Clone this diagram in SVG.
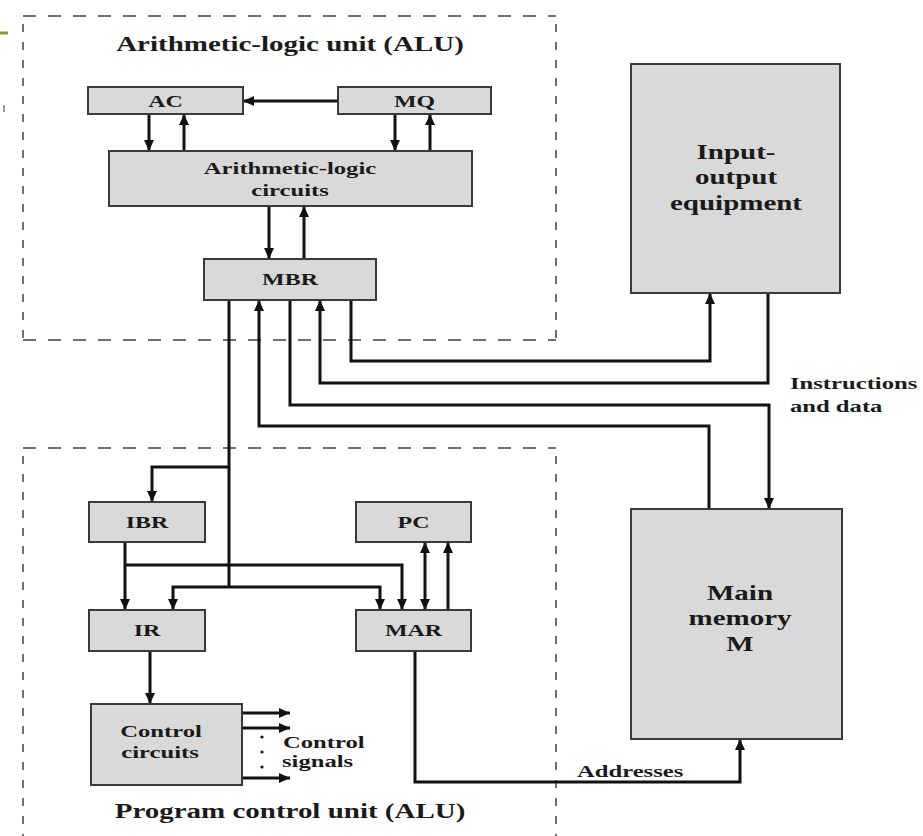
<svg xmlns="http://www.w3.org/2000/svg" width="923" height="836" viewBox="0 0 923 836">
<style>
.box{fill:#d9d9d9;stroke:#3a3a3a;stroke-width:2}
.big{fill:#d9d9d9;stroke:#3a3a3a;stroke-width:2}
.dh{stroke:#707070;stroke-width:2;stroke-dasharray:13 12;fill:none}
.dv{stroke:#707070;stroke-width:2;stroke-dasharray:8 10;fill:none}
.c{fill:none;stroke:#111;stroke-width:3}
.a{marker-end:url(#ah)}
text{font-family:"Liberation Serif","Times New Roman",serif;font-weight:bold;fill:#1a1a1a}
.t20{font-size:20px}
.t17{font-size:17px}
.t16{font-size:16.5px}
.m{text-anchor:middle}
</style>
<defs>
<marker id="ah" markerUnits="userSpaceOnUse" markerWidth="11" markerHeight="10" refX="11" refY="5" orient="auto">
<path d="M0,0 L11,5 L0,10 z" fill="#111"/>
</marker>
<marker id="ahs" markerUnits="userSpaceOnUse" markerWidth="11" markerHeight="10" refX="0" refY="5" orient="auto">
<path d="M11,0 L0,5 L11,10 z" fill="#111"/>
</marker>
</defs>
<rect width="923" height="836" fill="#ffffff"/>
<g id="artifacts">
<line x1="0" y1="33" x2="8" y2="33" stroke="#8c9a2e" stroke-width="3"/>
<line x1="4" y1="105" x2="4" y2="112" stroke="#999" stroke-width="2"/>
</g>
<g id="alu-unit">
<line class="dh" x1="23" y1="16" x2="556" y2="16"/>
<line class="dh" x1="23" y1="340" x2="556" y2="340"/>
<line class="dv" x1="23" y1="24" x2="23" y2="340"/>
<line class="dv" x1="556" y1="24" x2="556" y2="340"/>
<text class="t20 m" transform="matrix(1.45 0 0 1 290 51)">Arithmetic-logic unit (ALU)</text>
</g>
<g id="program-control-unit">
<line class="dh" x1="23" y1="448" x2="556" y2="448"/>
<line class="dv" x1="23" y1="456" x2="23" y2="836"/>
<line class="dv" x1="556" y1="456" x2="556" y2="836"/>
<text class="t20 m" transform="matrix(1.45 0 0 1 290 818)">Program control unit (ALU)</text>
</g>
<g id="connectors">
<path class="c a" d="M338,101 H243"/>
<path class="c a" d="M149,114 V151"/>
<path class="c a" d="M184,151 V114"/>
<path class="c a" d="M395,114 V151"/>
<path class="c a" d="M430,151 V114"/>
<path class="c a" d="M269,206 V259"/>
<path class="c a" d="M304,259 V206"/>
<path class="c a" d="M351,300 V361 H710 V293"/>
<path class="c a" d="M768,293 V383 H320 V300"/>
<path class="c a" d="M290,300 V405 H769 V509"/>
<path class="c a" d="M709,509 V426 H259 V300"/>
<path class="c" d="M229,300 V587"/>
<path class="c a" d="M229,467 H152 V502"/>
<path class="c a" d="M229,587 H173 V610"/>
<path class="c a" d="M229,587 H380 V610"/>
<path class="c a" d="M125,542 V610"/>
<path class="c a" d="M125,565 H402 V610"/>
<path class="c a" d="M425,610 V542" marker-start="url(#ahs)"/>
<path class="c a" d="M448,610 V542"/>
<path class="c a" d="M150,651 V704"/>
<path class="c a" d="M242,713 H290"/>
<path class="c a" d="M242,728 H290"/>
<path class="c a" d="M242,778 H290"/>
<path class="c a" d="M415,651 V782 H740 V739"/>
<circle cx="262" cy="737" r="1.6" fill="#111"/>
<circle cx="262" cy="752" r="1.6" fill="#111"/>
<circle cx="262" cy="767" r="1.6" fill="#111"/>
<text class="t17" transform="matrix(1.45 0 0 1 790 389)">Instructions</text>
<text class="t17" transform="matrix(1.45 0 0 1 790 412)">and data</text>
<text class="t17" transform="matrix(1.45 0 0 1 577 777)">Addresses</text>
<text class="t17" transform="matrix(1.45 0 0 1 283 748)">Control</text>
<text class="t17" transform="matrix(1.45 0 0 1 282 767)">signals</text>
</g>
<g id="AC">
<rect class="box" x="88" y="87" width="155" height="27"/>
<text class="t16 m" transform="matrix(1.45 0 0 1 165.5 107)">AC</text>
</g>
<g id="MQ">
<rect class="box" x="338" y="87" width="153" height="27"/>
<text class="t16 m" transform="matrix(1.45 0 0 1 414.5 107)">MQ</text>
</g>
<g id="ALC">
<rect class="box" x="109" y="151" width="363" height="55"/>
<text class="t17 m" transform="matrix(1.45 0 0 1 290 174)">Arithmetic-logic</text>
<text class="t17 m" transform="matrix(1.45 0 0 1 290 196)">circuits</text>
</g>
<g id="MBR">
<rect class="box" x="204" y="259" width="172" height="41"/>
<text class="t16 m" transform="matrix(1.45 0 0 1 290 285)">MBR</text>
</g>
<g id="IO">
<rect class="big" x="631" y="64" width="209" height="229"/>
<text class="t20 m" transform="matrix(1.45 0 0 1 736 159)">Input-</text>
<text class="t20 m" transform="matrix(1.45 0 0 1 736 184)">output</text>
<text class="t20 m" transform="matrix(1.45 0 0 1 736 210)">equipment</text>
</g>
<g id="MM">
<rect class="big" x="631" y="509" width="211" height="230"/>
<text class="t20 m" transform="matrix(1.45 0 0 1 740 600)">Main</text>
<text class="t20 m" transform="matrix(1.45 0 0 1 740 625)">memory</text>
<text class="t20 m" transform="matrix(1.45 0 0 1 740 651)">M</text>
</g>
<g id="IBR">
<rect class="box" x="89" y="502" width="116" height="40"/>
<text class="t16 m" transform="matrix(1.45 0 0 1 147 528)">IBR</text>
</g>
<g id="PC">
<rect class="box" x="356" y="502" width="115" height="40"/>
<text class="t16 m" transform="matrix(1.45 0 0 1 413.5 528)">PC</text>
</g>
<g id="IR">
<rect class="box" x="89" y="610" width="116" height="41"/>
<text class="t16 m" transform="matrix(1.45 0 0 1 147 636)">IR</text>
</g>
<g id="MAR">
<rect class="box" x="356" y="610" width="115" height="41"/>
<text class="t16 m" transform="matrix(1.45 0 0 1 413.5 636)">MAR</text>
</g>
<g id="ControlCircuits">
<rect class="box" x="91" y="704" width="151" height="81"/>
<text class="t17 m" transform="matrix(1.45 0 0 1 161 737)">Control</text>
<text class="t17 m" transform="matrix(1.45 0 0 1 160 758)">circuits</text>
</g>
</svg>
